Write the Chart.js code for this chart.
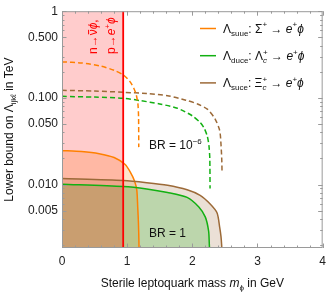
<!DOCTYPE html>
<html>
<head>
<meta charset="utf-8">
<script src="https://cdn.jsdelivr.net/npm/chart.js@4/dist/chart.umd.min.js"></script>
<style>
  html, body { margin: 0; padding: 0; background: #fff; }
  #wrap { width: 332px; height: 294px; }
</style>
</head>
<body>
<div id="wrap"><canvas id="c" width="332" height="294"></canvas></div>
<script>
// Axis ranges and ticks
const X_MIN = 0, X_MAX = 4;
const Y_MIN = 0.00185, Y_MAX = 1;
const xTicks = [0, 1, 2, 3, 4];
const xMinorStep = 0.2;
const yTicks = [0.005, 0.01, 0.05, 0.1, 0.5, 1];
const yTickLabels = ['0.005', '0.010', '0.050', '0.100', '0.500', '1'];

// vertical red line: nucleon mass (GeV)
const nucleonMass = 0.939;

// BR = 1 (solid, filled)
const suueSolidX = [0, 0.3, 0.57, 0.8, 0.97, 1.048, 1.113, 1.148, 1.162, 1.173, 1.18, 1.182];
const suueSolidY = [0.0246, 0.024, 0.0227, 0.0205, 0.017, 0.0139, 0.011, 0.0086, 0.0055, 0.0036, 0.0023, 0.00185];
const duceSolidX = [0, 0.94, 1.3, 1.62, 1.92, 2.1, 2.2, 2.25, 2.26, 2.263];
const duceSolidY = [0.0101, 0.0095, 0.0089, 0.0081, 0.0071, 0.0055, 0.0042, 0.0029, 0.0021, 0.00185];
const suceSolidX = [0, 0.94, 1.3, 1.62, 1.92, 2.12, 2.27, 2.38, 2.42, 2.44, 2.45, 2.452];
const suceSolidY = [0.0117, 0.0111, 0.0105, 0.0098, 0.0087, 0.0075, 0.006, 0.0047, 0.0032, 0.0025, 0.002, 0.00185];

// BR = 1e-6 (dashed)
const suueDashX = [0, 0.3, 0.6, 0.8, 0.94, 1.04, 1.1, 1.14, 1.165, 1.175, 1.178];
const suueDashY = [0.26, 0.253, 0.232, 0.208, 0.184, 0.155, 0.13, 0.108, 0.085, 0.06, 0.027];
const duceDashX = [0, 0.5, 0.94, 1.2, 1.5, 1.77, 2.0, 2.12, 2.18, 2.23, 2.255, 2.268, 2.272];
const duceDashY = [0.104, 0.102, 0.099, 0.093, 0.085, 0.076, 0.062, 0.052, 0.045, 0.036, 0.028, 0.02, 0.009];
const suceDashX = [0, 0.5, 0.94, 1.3, 1.62, 1.9, 2.08, 2.23, 2.35, 2.42, 2.44, 2.452, 2.456];
const suceDashY = [0.122, 0.12, 0.116, 0.112, 0.106, 0.094, 0.085, 0.074, 0.057, 0.042, 0.029, 0.019, 0.0137];

const ORANGE = '#ff8000', GREEN = '#12b012', BROWN = '#9c6a38', RED = '#ff0000';
const FONT = '"Liberation Sans", Arial, Helvetica, sans-serif';

const pts = (xs, ys) => xs.map((x, i) => ({ x, y: ys[i] }));

function solid(xs, ys, color, fillColor) {
  return {
    data: pts(xs, ys), borderColor: color, borderWidth: 1.5, pointRadius: 0,
    tension: 0.25, fill: 'start', backgroundColor: fillColor,
  };
}
function dashed(xs, ys, color) {
  return {
    data: pts(xs, ys), borderColor: color, borderWidth: 1.5, pointRadius: 0,
    tension: 0.25, fill: false, borderDash: [5, 3],
  };
}

// draws a run of text pieces; kind: '' normal, 'i' italic, 'sub', 'sup',
// 'subsup' (stacked [sub, sup]), 'bar' (overlined)
function rich(ctx, parts, size, x, y, draw) {
  let cx = x;
  const small = Math.round(size * 0.68);
  for (const [t, k] of parts) {
    if (k === 'subsup') {
      ctx.font = `italic ${small}px ${FONT}`;
      const w0 = ctx.measureText(t[0]).width;
      ctx.font = `${small}px ${FONT}`;
      const w1 = ctx.measureText(t[1]).width;
      if (draw) {
        ctx.font = `italic ${small}px ${FONT}`;
        ctx.fillText(t[0], cx, y + size * 0.28);
        ctx.font = `${small}px ${FONT}`;
        ctx.fillText(t[1], cx, y - size * 0.42);
      }
      cx += Math.max(w0, w1);
      continue;
    }
    let dy = 0;
    if (k === 'sub') { ctx.font = `${small}px ${FONT}`; dy = size * 0.28; }
    else if (k === 'sup') { ctx.font = `${small}px ${FONT}`; dy = -size * 0.42; }
    else if (k === 'i') ctx.font = `italic ${size}px ${FONT}`;
    else ctx.font = `${size}px ${FONT}`;
    const w = ctx.measureText(t).width;
    if (draw) {
      ctx.fillText(t, cx, y + dy);
      if (k === 'bar') {
        ctx.save();
        ctx.strokeStyle = ctx.fillStyle;
        ctx.lineWidth = 1;
        ctx.beginPath();
        ctx.moveTo(cx + 1, y - size * 0.7);
        ctx.lineTo(cx + w - 0.5, y - size * 0.7);
        ctx.stroke();
        ctx.restore();
      }
    }
    cx += w;
  }
  return cx - x;
}

const legendItems = [
  { color: ORANGE, parts: [['Λ', ''], ['suue', 'sub'], [': Σ', ''], ['+', 'sup'], [' → ', ''], ['e', 'i'], ['+', 'sup'], ['ϕ', 'i']] },
  { color: GREEN, parts: [['Λ', ''], ['duce', 'sub'], [': Λ', ''], [['c', '+'], 'subsup'], [' → ', ''], ['e', 'i'], ['+', 'sup'], ['ϕ', 'i']] },
  { color: BROWN, parts: [['Λ', ''], ['suce', 'sub'], [': Ξ', ''], [['c', '+'], 'subsup'], [' → ', ''], ['e', 'i'], ['+', 'sup'], ['ϕ', 'i']] },
];

const decorations = {
  id: 'decorations',
  afterDraw(chart) {
    const { ctx, chartArea: a, scales: { x, y } } = chart;
    ctx.save();

    // frame with inward ticks on all four sides
    ctx.strokeStyle = '#9a9a9a';
    ctx.lineWidth = 1;
    ctx.strokeRect(a.left + 0.5, a.top + 0.5, a.right - a.left - 1, a.bottom - a.top - 1);
    ctx.beginPath();
    for (let v = X_MIN; v <= X_MAX + 1e-9; v += xMinorStep) {
      const major = xTicks.some(t => Math.abs(t - v) < 1e-6);
      const len = major ? 4.5 : 2.5;
      const px = Math.round(x.getPixelForValue(v)) + 0.5;
      ctx.moveTo(px, a.bottom); ctx.lineTo(px, a.bottom - len);
      ctx.moveTo(px, a.top); ctx.lineTo(px, a.top + len);
    }
    for (let e = -3; e <= 0; e++) {
      for (let k = 1; k <= 9; k++) {
        const v = k * Math.pow(10, e);
        if (v < Y_MIN || v > Y_MAX * 1.0001) continue;
        const major = yTicks.some(t => Math.abs(t - v) / t < 1e-6);
        const len = major ? 4.5 : 2.5;
        const py = Math.round(y.getPixelForValue(v)) + 0.5;
        ctx.moveTo(a.left, py); ctx.lineTo(a.left + len, py);
        ctx.moveTo(a.right, py); ctx.lineTo(a.right - len, py);
      }
    }
    ctx.stroke();

    ctx.textBaseline = 'alphabetic';
    ctx.textAlign = 'left';

    // legend
    legendItems.forEach((item, i) => {
      const ly = 28.5 + i * 27.2;
      ctx.strokeStyle = item.color;
      ctx.lineWidth = 1.5;
      ctx.beginPath();
      ctx.moveTo(200, ly); ctx.lineTo(216, ly);
      ctx.stroke();
      ctx.fillStyle = '#111';
      rich(ctx, item.parts, 12, 223, ly + 4, true);
    });

    // BR annotations
    ctx.fillStyle = '#111';
    rich(ctx, [['BR = 10', ''], ['−6', 'sup']], 12, 149, 149, true);
    rich(ctx, [['BR = 1', '']], 12, 149, 237, true);

    // red rotated process labels
    ctx.fillStyle = RED;
    const col1 = [['n→', ''], ['ν', 'bar'], ['ϕ', 'i'], [',', '']];
    const col2 = [['p→', ''], ['e', 'i'], ['+', 'sup'], ['ϕ', 'i']];
    [[col1, 97], [col2, 115]].forEach(([parts, bx]) => {
      ctx.save();
      ctx.translate(bx, 54);
      ctx.rotate(-Math.PI / 2);
      rich(ctx, parts, 12, 0, 0, true);
      ctx.restore();
    });

    // axis titles
    ctx.fillStyle = '#111';
    const xTitle = [['Sterile leptoquark mass ', ''], ['m', 'i'], ['ϕ', 'sub'], [' in GeV', '']];
    const xw = rich(ctx, xTitle, 12, 0, 0, false);
    rich(ctx, xTitle, 12, (a.left + a.right) / 2 - xw / 2, 287, true);

    const yTitle = [['Lower bound on Λ', ''], ['ijkℓ', 'sub'], [' in TeV', '']];
    const yw = rich(ctx, yTitle, 12, 0, 0, false);
    ctx.save();
    ctx.translate(13, (a.top + a.bottom) / 2 + yw / 2);
    ctx.rotate(-Math.PI / 2);
    rich(ctx, yTitle, 12, 0, 0, true);
    ctx.restore();

    ctx.restore();
  },
};

new Chart(document.getElementById('c'), {
  type: 'line',
  data: {
    datasets: [
      { data: pts([nucleonMass, nucleonMass], [Y_MIN, Y_MAX]), borderColor: RED, borderWidth: 1.8, pointRadius: 0, fill: false },
      { data: pts([0, nucleonMass], [Y_MAX, Y_MAX]), borderWidth: 0, borderColor: 'rgba(0,0,0,0)', pointRadius: 0,
        fill: 'start', backgroundColor: 'rgba(255,0,0,0.2)' },
      solid(duceSolidX, duceSolidY, GREEN, 'rgba(0,170,0,0.2)'),
      solid(suceSolidX, suceSolidY, BROWN, 'rgba(153,102,51,0.2)'),
      solid(suueSolidX, suueSolidY, ORANGE, 'rgba(255,128,0,0.2)'),
      dashed(suueDashX, suueDashY, ORANGE),
      dashed(duceDashX, duceDashY, GREEN),
      dashed(suceDashX, suceDashY, BROWN),
    ],
  },
  options: {
    responsive: false,
    animation: false,
    devicePixelRatio: 1,
    layout: { padding: { left: 0, right: 4, top: 9, bottom: 0 } },
    plugins: {
      legend: { display: false },
      tooltip: { enabled: false },
      filler: { drawTime: 'beforeDatasetsDraw' },
    },
    scales: {
      x: {
        type: 'linear', min: X_MIN, max: X_MAX,
        grid: { display: false, drawTicks: false },
        border: { display: false },
        afterBuildTicks: s => { s.ticks = xTicks.map(v => ({ value: v })); },
        afterFit: s => { s.height = 46; },
        ticks: { font: { family: FONT, size: 12 }, color: '#222', padding: 6, maxRotation: 0, autoSkip: false,
          callback: v => String(v) },
      },
      y: {
        type: 'logarithmic', min: Y_MIN, max: Y_MAX,
        grid: { display: false, drawTicks: false },
        border: { display: false },
        afterBuildTicks: s => { s.ticks = yTicks.map(v => ({ value: v })); },
        afterFit: s => { s.width = 62; },
        ticks: { font: { family: FONT, size: 12 }, color: '#222', padding: 4, autoSkip: false,
          callback: v => yTickLabels[yTicks.indexOf(v)] },
      },
    },
  },
  plugins: [decorations],
});
</script>
</body>
</html>
